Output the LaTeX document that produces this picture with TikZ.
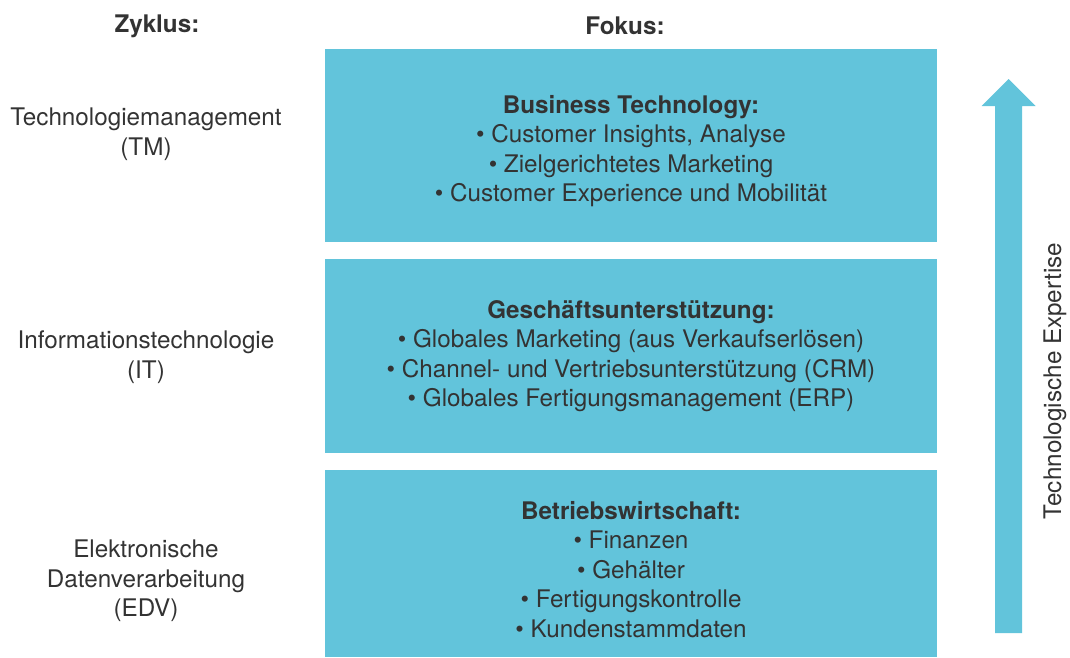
\documentclass[tikz,border=0pt]{standalone}
\usepackage{fontspec}
\setmainfont{TeX Gyre Heros}
\usepackage{xcolor}
\usepackage{tikz}
\usetikzlibrary{calc}
\definecolor{fokusBlue}{HTML}{62C4DB}
\definecolor{textGrey}{HTML}{333333}
\newcommand{\txt}{\fontsize{13.8}{16.8}\selectfont}
\tikzstyle{fokus} = [rectangle,fill=fokusBlue,minimum width=12.24cm]
\tikzstyle{liste} = [align=center,text=textGrey,font=\txt]
\tikzstyle{zyklus} = [align=center,text=textGrey,font=\txt]
\tikzstyle{head} = [text=textGrey,font=\txt\bfseries]

\begin{document}
\begin{tikzpicture}[x=0.02cm,y=-0.02cm]
	\useasboundingbox (0,0) rectangle (1070,657);
	
	\node[head] (zyk) at (157,26) {Zyklus:};
	\node[head] (fok) at (625,26) {Fokus:};
	
	\node[fokus,minimum height=3.86cm] (bt) at (631,145.5) {};
	\node[fokus,minimum height=3.88cm] (gu) at (631,356) {};
	\node[fokus,minimum height=3.74cm] (bw) at (631,563.5) {};
	
	\node[liste] (btText) at ($(bt)+(0,5.5)$) {\textbf{Business Technology:}\\
		\textbullet{} Customer Insights, Analyse\\
		\textbullet{} Zielgerichtetes Marketing\\
		\textbullet{} Customer Experience und Mobilität};
	\node[liste] (guText) at (gu) {\textbf{Geschäftsunterstützung:}\\
		\textbullet{} Globales Marketing (aus Verkaufserlösen)\\
		\textbullet{} Channel- und Vertriebsunterstützung (CRM)\\
		\textbullet{} Globales Fertigungsmanagement (ERP)};
	\node[liste] (bwText) at ($(bw)+(0,6)$) {\textbf{Betriebswirtschaft:}\\
		\textbullet{} Finanzen\\
		\textbullet{} Gehälter\\
		\textbullet{} Fertigungskontrolle\\
		\textbullet{} Kundenstammdaten};
	
	\node[zyklus] (tm)  at (146,134) {Technologiemanagement\\(TM)};
	\node[zyklus] (it)  at (146,357) {Informationstechnologie\\(IT)};
	\node[zyklus] (edv) at (146,581) {Elektronische\\Datenverarbeitung\\(EDV)};
	
	% Pfeil rechts
	\coordinate (fuss) at (1008.5,633);
	\coordinate (spitze) at (1008.5,79);
	\fill[fokusBlue] ($(fuss)+(-13.5,0)$) -- ++(0,-527) -- ++(-13.5,0) -- (spitze)
		-- ++(27,27) -- ++(-13.5,0) -- ($(fuss)+(13.5,0)$) -- cycle;
	\node[zyklus,rotate=90] (expertise) at (1055,381) {Technologische Expertise};
\end{tikzpicture}
\end{document}
